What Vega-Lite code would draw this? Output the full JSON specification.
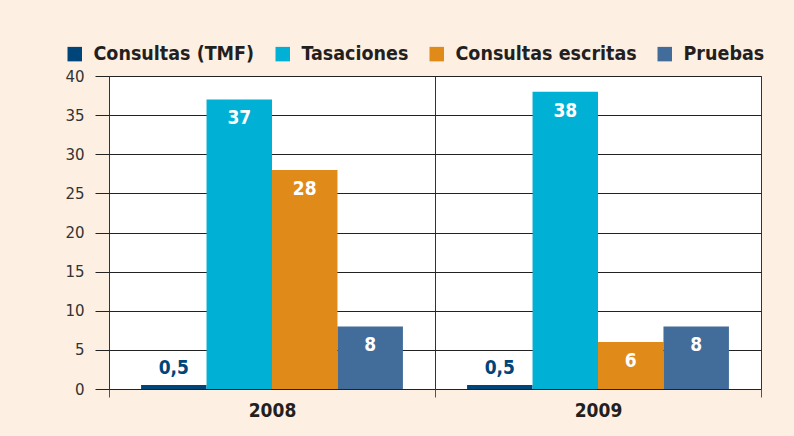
{
  "$schema": "https://vega.github.io/schema/vega-lite/v6.json",
  "width": 652,
  "height": 313,
  "autosize": {"type": "none"},
  "padding": {"left": 109, "top": 76, "right": 33, "bottom": 47},
  "background": "#FDF0E3",
  "config": {
    "view": {"fill": "#ffffff", "stroke": "#444444", "strokeWidth": 1},
    "locale": {"number": {"decimal": ",", "thousands": ".", "grouping": [3], "currency": ["", " €"]}}
  },
  "data": {
    "values": [
      {"anio": "2008", "serie": "Consultas (TMF)", "valor": 0.5},
      {"anio": "2008", "serie": "Tasaciones", "valor": 37},
      {"anio": "2008", "serie": "Consultas escritas", "valor": 28},
      {"anio": "2008", "serie": "Pruebas", "valor": 8},
      {"anio": "2009", "serie": "Consultas (TMF)", "valor": 0.5},
      {"anio": "2009", "serie": "Tasaciones", "valor": 38},
      {"anio": "2009", "serie": "Consultas escritas", "valor": 6},
      {"anio": "2009", "serie": "Pruebas", "valor": 8}
    ]
  },
  "encoding": {
    "x": {
      "field": "anio",
      "type": "nominal",
      "scale": {"paddingInner": 0, "paddingOuter": 0},
      "axis": {
        "title": null,
        "labelAngle": 0,
        "tickBand": "extent",
        "grid": true,
        "gridColor": "#333333",
        "domain": false,
        "ticks": true,
        "tickSize": 8,
        "tickColor": "#555555",
        "labelFont": "DejaVu Sans Condensed",
        "labelFontWeight": "bold",
        "labelFontSize": 19,
        "labelColor": "#231F20",
        "labelPadding": 4
      }
    },
    "xOffset": {
      "field": "serie",
      "type": "nominal",
      "sort": ["Consultas (TMF)", "Tasaciones", "Consultas escritas", "Pruebas"],
      "scale": {"paddingInner": 0, "paddingOuter": 0.49}
    },
    "y": {
      "field": "valor",
      "type": "quantitative",
      "scale": {"domain": [0, 40], "nice": false},
      "axis": {
        "title": null,
        "values": [0, 5, 10, 15, 20, 25, 30, 35, 40],
        "grid": true,
        "gridColor": "#222222",
        "domain": false,
        "tickSize": 14,
        "tickColor": "#222222",
        "labelPadding": 11,
        "labelFont": "DejaVu Sans",
        "labelFontSize": 15,
        "labelColor": "#333333"
      }
    }
  },
  "layer": [
    {
      "mark": {"type": "bar"},
      "encoding": {
        "color": {
          "field": "serie",
          "type": "nominal",
          "sort": ["Consultas (TMF)", "Tasaciones", "Consultas escritas", "Pruebas"],
          "scale": {
            "domain": ["Consultas (TMF)", "Tasaciones", "Consultas escritas", "Pruebas"],
            "range": ["#00457A", "#00B1D5", "#E08B19", "#426C9A"]
          },
          "legend": {
            "title": null,
            "orient": "none",
            "legendX": -44,
            "legendY": -32,
            "direction": "horizontal",
            "symbolType": "square",
            "symbolSize": 210,
            "symbolStrokeWidth": 0,
            "symbolOpacity": 1,
            "labelFont": "DejaVu Sans Condensed",
            "labelFontWeight": "bold",
            "labelFontSize": 19.5,
            "labelColor": "#231F20",
            "labelOffset": 9,
            "columnPadding": 18,
            "labelLimit": 0
          }
        }
      }
    },
    {
      "transform": [{"filter": "datum.valor >= 2"}],
      "mark": {
        "type": "text",
        "baseline": "alphabetic",
        "dy": 25,
        "color": "#ffffff",
        "font": "DejaVu Sans Condensed",
        "fontWeight": "bold",
        "fontSize": 19
      },
      "encoding": {"text": {"field": "valor", "type": "quantitative", "format": ".1~f"}}
    },
    {
      "transform": [{"filter": "datum.valor < 2"}],
      "mark": {
        "type": "text",
        "baseline": "alphabetic",
        "dy": -11,
        "color": "#00457A",
        "font": "DejaVu Sans Condensed",
        "fontWeight": "bold",
        "fontSize": 19
      },
      "encoding": {"text": {"field": "valor", "type": "quantitative", "format": ".1~f"}}
    }
  ]
}
